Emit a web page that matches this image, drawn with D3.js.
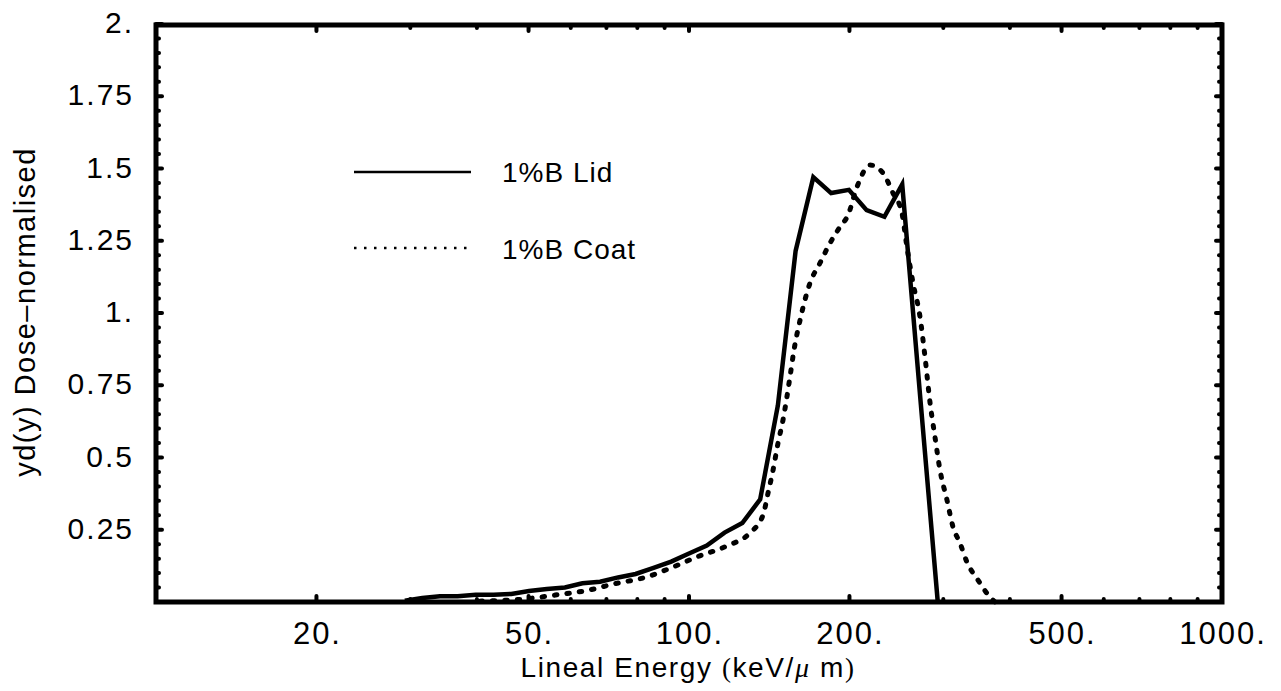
<!DOCTYPE html>
<html>
<head>
<meta charset="utf-8">
<script src="https://cdn.jsdelivr.net/npm/d3@7"></script>
<style>
  body { margin: 0; background: #fff; }
  svg { display: block; }
  text { font-family: "Liberation Sans", Arial, sans-serif; fill: #000; }
</style>
</head>
<body>
<svg id="chart" width="1281" height="691"></svg>
<script>
// Lineal energy (keV/um) and dose-normalised yd(y) for the 1%B Lid run
const lidEnergy = [29.3, 31.6, 34.1, 36.8, 39.8, 43.0, 46.4, 50.1, 54.1, 58.5, 63.1, 68.1, 73.6,
  79.4, 85.8, 92.6, 100, 108, 116.6, 125.9, 136, 146.8, 158.5, 171.1, 184.8, 199.5, 215.4, 232.6,
  251.2, 271.2, 292.9];
const lidDose = [0.004, 0.014, 0.02, 0.02, 0.025, 0.025, 0.028, 0.038, 0.045, 0.05, 0.065, 0.07, 0.085,
  0.097, 0.118, 0.14, 0.168, 0.195, 0.24, 0.273, 0.355, 0.68, 1.215, 1.47, 1.415, 1.426, 1.356, 1.333,
  1.445, 0.72, 0];

// same for the 1%B Coat run
const coatEnergy = [40.5, 48.8, 56.1, 65.2, 72.0, 83.4, 93.3, 103.5, 117.8, 130.1, 137.7, 140.7, 143.8,
  146.9, 150.1, 154.7, 157.4, 161.6, 168.7, 176.1, 183.9, 192.0, 198.8, 206.6, 218.6, 231.2, 241.4,
  250.9, 256.4, 263.2, 271.3, 277.2, 283.3, 289.4, 295.7, 304.8, 312.8, 322.4, 332.3, 348.5, 367.0, 375.1];
const coatDose = [0.003, 0.01, 0.024, 0.042, 0.062, 0.087, 0.121, 0.156, 0.194, 0.239, 0.301, 0.377, 0.457,
  0.55, 0.63, 0.779, 0.872, 0.976, 1.104, 1.173, 1.242, 1.298, 1.339, 1.436, 1.512, 1.484, 1.415,
  1.346, 1.228, 1.104, 0.986, 0.848, 0.689, 0.571, 0.457, 0.353, 0.26, 0.204, 0.138, 0.076, 0.017, 0];

const xMajorTicks = [20, 50, 100, 200, 500, 1000];
const xTickLabels = ["20.", "50.", "100.", "200.", "500.", "1000."];
const xMinorTicks = [30, 40, 60, 70, 80, 90, 300, 400, 600, 700, 800, 900];
const yMajorTicks = [0.25, 0.5, 0.75, 1, 1.25, 1.5, 1.75, 2];
const yTickLabels = ["0.25", "0.5", "0.75", "1.", "1.25", "1.5", "1.75", "2."];
const seriesNames = ["1%B Lid", "1%B Coat"];

const svg = d3.select("#chart");

// plot frame in pixels
const frameLeft = 156, frameRight = 1222, frameTop = 25, frameBottom = 602;

const x = d3.scaleLog().domain([10, 1000]).range([frameLeft, frameRight]);
const y = d3.scaleLinear().domain([0, 2]).range([frameBottom, 24]);

// minor y ticks every 0.05 that are not majors
const yMinorTicks = d3.range(1, 40).map(i => i * 0.05).filter(v => Math.abs(v / 0.25 - Math.round(v / 0.25)) > 1e-6);

const lineGen = d3.line()
  .x(d => x(d[0]))
  .y(d => y(d[1]));

// curves
svg.append("path")
  .datum(lidEnergy.map((e, i) => [e, lidDose[i]]))
  .attr("d", lineGen)
  .attr("fill", "none")
  .attr("stroke", "#000")
  .attr("stroke-width", 4.5)
  .attr("stroke-linejoin", "miter");

svg.append("path")
  .datum(coatEnergy.map((e, i) => [e, coatDose[i]]))
  .attr("d", lineGen.curve(d3.curveMonotoneX))
  .attr("fill", "none")
  .attr("stroke", "#000")
  .attr("stroke-width", 5)
  .attr("stroke-linecap", "round")
  .attr("stroke-dasharray", "2.5 10");

// ticks on all four sides, pointing inward
const ticks = svg.append("g")
  .attr("stroke", "#000")
  .attr("stroke-width", 4)
  .attr("stroke-linecap", "round");

function xTicks(values, len) {
  ticks.selectAll(null).data(values).join("line")
    .attr("x1", d => x(d)).attr("x2", d => x(d))
    .attr("y1", frameBottom).attr("y2", frameBottom - len);
  ticks.selectAll(null).data(values).join("line")
    .attr("x1", d => x(d)).attr("x2", d => x(d))
    .attr("y1", frameTop).attr("y2", frameTop + len);
}
function yTicks(values, len) {
  ticks.selectAll(null).data(values).join("line")
    .attr("y1", d => y(d)).attr("y2", d => y(d))
    .attr("x1", frameLeft).attr("x2", frameLeft + len);
  ticks.selectAll(null).data(values).join("line")
    .attr("y1", d => y(d)).attr("y2", d => y(d))
    .attr("x1", frameRight).attr("x2", frameRight - len);
}
xTicks(xMajorTicks, 6);
xTicks(xMinorTicks, 3);
yTicks(yMajorTicks, 6);
yTicks(yMinorTicks, 3);

// frame
svg.append("rect")
  .attr("x", frameLeft).attr("y", frameTop)
  .attr("width", frameRight - frameLeft).attr("height", frameBottom - frameTop)
  .attr("fill", "none")
  .attr("stroke", "#000")
  .attr("stroke-width", 5);

// tick labels (letter-spacing adds a trailing gap, so nudge by it)
svg.append("g").selectAll("text")
  .data(xMajorTicks)
  .join("text")
  .attr("x", d => x(d) + 1)
  .attr("y", 644)
  .attr("text-anchor", "middle")
  .style("font-size", "31px")
  .style("letter-spacing", "2px")
  .text((d, i) => xTickLabels[i]);

svg.append("g").selectAll("text")
  .data(yMajorTicks)
  .join("text")
  .attr("x", 134)
  .attr("y", d => y(d) + 9)
  .attr("text-anchor", "end")
  .style("font-size", "30px")
  .style("letter-spacing", "2px")
  .text((d, i) => yTickLabels[i]);

// axis titles
const xTitle = svg.append("text")
  .attr("x", 688)
  .attr("y", 677)
  .attr("text-anchor", "middle")
  .style("font-size", "28px")
  .style("letter-spacing", "1.6px");
xTitle.append("tspan").text("Lineal Energy ");
xTitle.append("tspan").style("font-family", "'Liberation Serif', serif").style("font-size", "27px").text("(");
xTitle.append("tspan").text("keV/");
xTitle.append("tspan").style("font-family", "'Liberation Serif', serif").style("font-style", "italic").text("\u03bc");
xTitle.append("tspan").text(" m");
xTitle.append("tspan").style("font-family", "'Liberation Serif', serif").style("font-size", "27px").text(")");

svg.append("text")
  .attr("transform", "translate(35,312) rotate(-90)")
  .attr("text-anchor", "middle")
  .style("font-size", "29px")
  .style("letter-spacing", "1.5px")
  .text("yd(y) Dose\u2013normalised");

// legend
const legend = svg.append("g");
legend.append("line")
  .attr("x1", 354).attr("x2", 471).attr("y1", 172).attr("y2", 172)
  .attr("stroke", "#000").attr("stroke-width", 2.7);
legend.append("line")
  .attr("x1", 354).attr("x2", 468).attr("y1", 248).attr("y2", 248)
  .attr("stroke", "#000").attr("stroke-width", 2.5)
  .attr("stroke-dasharray", "2.5 7.5");
legend.selectAll("text")
  .data(seriesNames)
  .join("text")
  .attr("x", 502)
  .attr("y", (d, i) => i === 0 ? 182 : 259)
  .style("font-size", "28px")
  .style("letter-spacing", "1px")
  .text(d => d);
</script>
</body>
</html>
